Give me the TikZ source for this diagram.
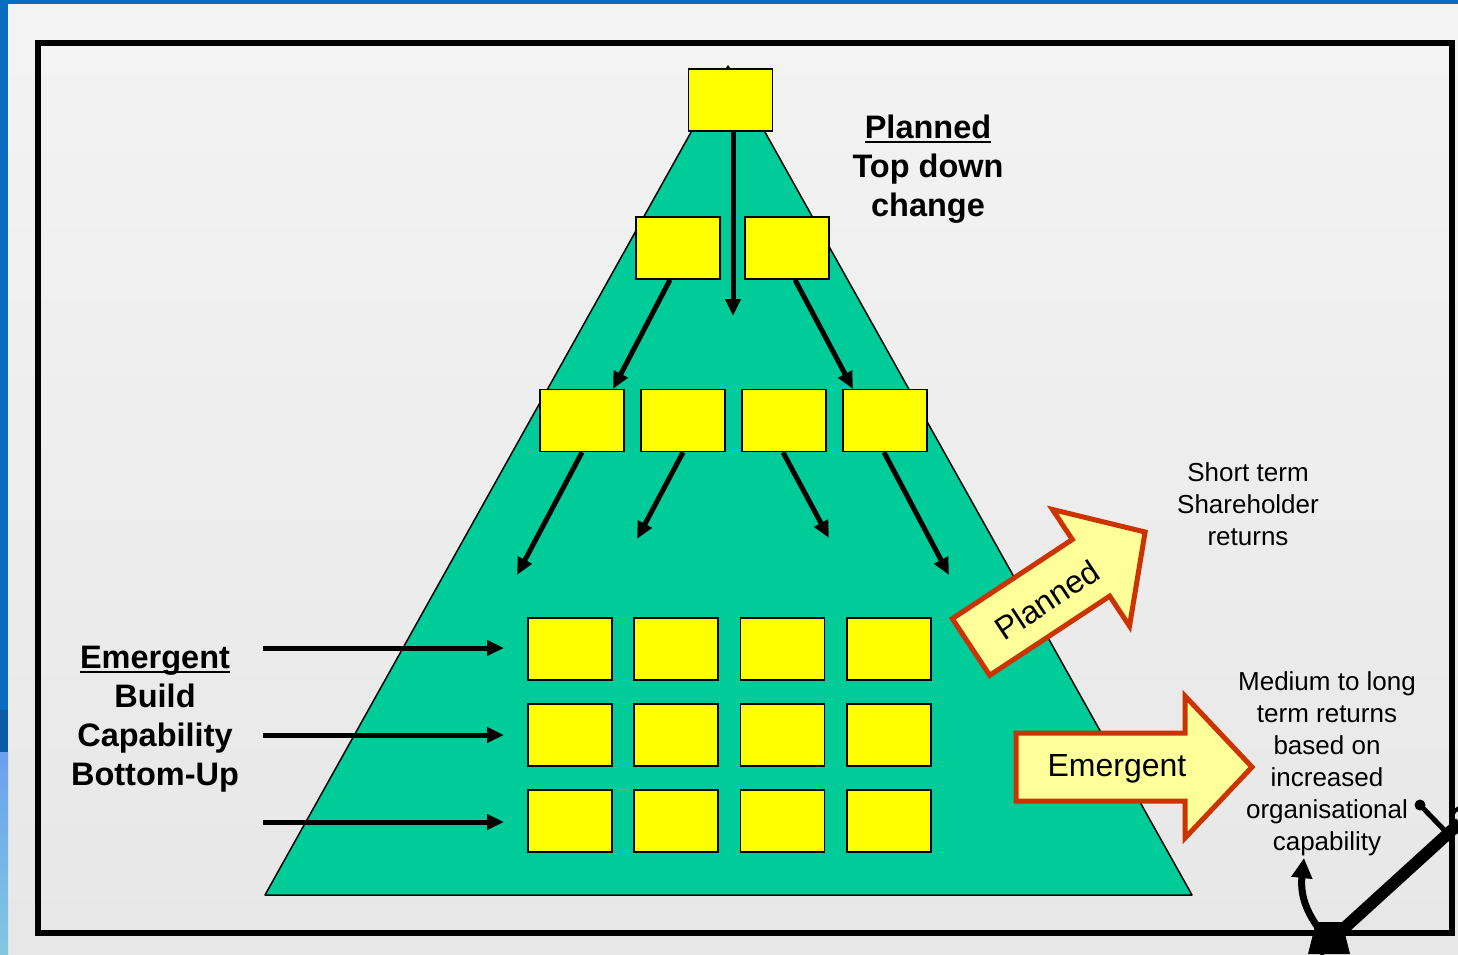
\documentclass[tikz,border=0pt]{standalone}
\usepackage{fontspec}
\setmainfont{Liberation Sans}
\usetikzlibrary{arrows.meta}
\definecolor{pyramid}{HTML}{00CC99}
\definecolor{boxyellow}{HTML}{FFFF00}
\definecolor{bluearrowfill}{HTML}{FFFF99}
\definecolor{arrowedge}{HTML}{CC3300}
\definecolor{slideblue}{HTML}{0A6CC0}
% underline at a fixed depth, crossing descenders
\newcommand\undl[1]{\setbox0\hbox{#1}\rlap{\rule[-4.5pt]{\wd0}{2.2pt}}#1}
\tikzset{
  ybox/.style={draw=black, line width=1.6pt, fill=boxyellow, minimum width=84pt, minimum height=62pt, inner sep=0pt},
  flow/.style={line width=5pt, -{Triangle[length=17pt,width=15pt]}},
  boldlabel/.style={font=\bfseries\fontsize{32.5}{39}\selectfont, align=center, inner sep=0pt},
  plainlabel/.style={font=\fontsize{26}{32}\selectfont, align=center, inner sep=0pt},
  blockarrow/.style={draw=arrowedge, line width=5pt, fill=bluearrowfill, line join=miter},
  arrowlabel/.style={font=\fontsize{32}{37}\selectfont, inner sep=0pt}
}
\begin{document}
\begin{tikzpicture}[x=1pt, y=-1pt]
\useasboundingbox (0,0) rectangle (1458,954);
% slide background
\shade[top color=gray!9, bottom color=gray!19] (0,0) rectangle (1458,954);
\fill[slideblue] (0,0) rectangle (1458,4);
\fill[slideblue] (0,0) rectangle (8,710);
\fill[slideblue!85!black] (0,710) rectangle (8,752);
\shade[top color={rgb,255:red,106;green,160;blue,240}, bottom color={rgb,255:red,128;green,200;blue,224}] (0,752) rectangle (8,954);

% frame
\draw[line width=5.5pt] (38,43) rectangle (1452,933);

% pyramid
\draw[line width=1.5pt, fill=pyramid, line join=round] (728,66) -- (1192,895) -- (265,895) -- cycle;

% boxes
\node[ybox] (top) at (730.5,100) {};
\node[ybox] (l2a) at (678,248) {};
\node[ybox] (l2b) at (787,248) {};
\node[ybox] (l3a) at (582,420.5) {};
\node[ybox] (l3b) at (683,420.5) {};
\node[ybox] (l3c) at (784,420.5) {};
\node[ybox] (l3d) at (885,420.5) {};
\foreach \r/\y in {1/649,2/735,3/821}{
  \foreach \c/\x in {1/570,2/676,3/782.5,4/889}{
    \node[ybox] (g\r\c) at (\x,\y) {};
  }
}

% top-down flow
\coordinate (e0) at (733,316);
\coordinate (e1) at (613,389);
\coordinate (e2) at (853,389);
\coordinate (e3) at (517,575);
\coordinate (e4) at (637,539);
\coordinate (e5) at (829,538);
\coordinate (e6) at (949,575);
\draw[flow] ([xshift=2.5pt]top.south) -- (e0);
\draw[flow] ([xshift=-8pt]l2a.south) -- (e1);
\draw[flow] ([xshift=8pt]l2b.south) -- (e2);
\draw[flow] (l3a.south) -- (e3);
\draw[flow] (l3b.south) -- (e4);
\draw[flow] ([xshift=-1pt]l3c.south) -- (e5);
\draw[flow] ([xshift=-1pt]l3d.south) -- (e6);

% bottom-up flow
\foreach \i/\y in {1/648,2/735,3/822}{
  \coordinate (s\i) at (263,\y);
  \coordinate (t\i) at (504,\y);
  \draw[flow] (s\i) -- (t\i);
}

% labels
\node[boldlabel] (plan) at (928,169) {\undl{Planned}\\Top down\\change};
\node[boldlabel] (emer) at (155,719) {\undl{Emergent}\\Build\\Capability\\Bottom-Up};
\node[plainlabel] (short) at (1248,504) {Short term\\Shareholder\\returns};
\node[plainlabel] (longr) at (1327,764) {Medium to long\\term returns\\based on\\increased\\organisational\\capability};

% planned block arrow
\draw[blockarrow] (952.3,618.7) -- (1072.3,539.5) -- (1052.5,509.5) -- (1145.1,532)
  -- (1129.5,626.1) -- (1109.7,596.1) -- (989.7,675.3) -- cycle;
\node[arrowlabel, rotate=33.4] (plannedtxt) at (1047,600) {Planned};

% emergent block arrow
\draw[blockarrow] (1016,733) -- (1185,733) -- (1185,696) -- (1252,767)
  -- (1185,838) -- (1185,801) -- (1016,801) -- cycle;
\node[arrowlabel] (emergenttxt) at (1117,769) {Emergent};

% corner pointer sketch
\draw[line width=12pt] (1318,952) -- (1452,830) -- (1460,823);
\draw[line width=7pt, -{Triangle[length=20pt,width=20pt]}] (1328,940) .. controls (1306,915) and (1300,895) .. (1304,858);
\fill (1308,954) -- (1350,954) -- (1342,922) -- (1316,922) -- cycle;
\draw[line width=5pt, line cap=round] (1420,805) -- (1450,836);
\fill (1420,805) circle (5.5);
\draw[line width=4pt] (1464,820) circle (13);
\end{tikzpicture}
\end{document}
